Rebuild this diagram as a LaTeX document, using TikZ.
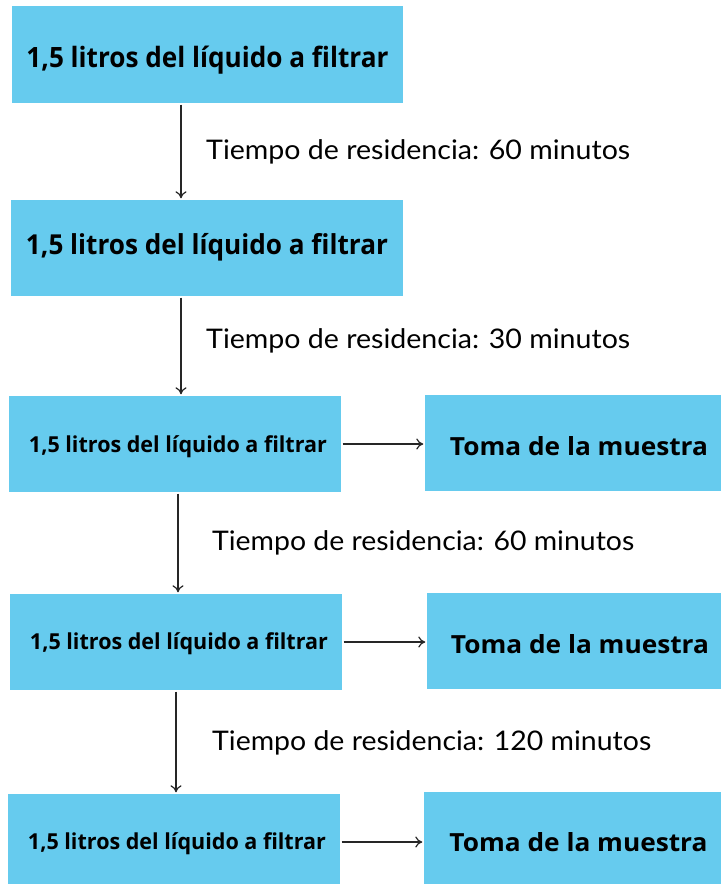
\documentclass[tikz,border=0pt]{standalone}
\usepackage{fontspec}
\setmainfont{Lato}
\newfontfamily\boxfont{Open Sans}
\usetikzlibrary{arrows.meta}
\definecolor{boxblue}{RGB}{102,203,238}
% #1 = lowering of baseline below box centre, #2 = width, #3 = text
\newcommand\boxtxt[3]{\raisebox{-#1}[0pt][0pt]{\resizebox{#2}{\height}{#3}}}
\newcommand\fitl[2]{\resizebox{#1}{\height}{#2}}
\tikzset{
  bluebox/.style={rectangle, fill=boxblue, inner sep=0pt, anchor=center, font=\boxfont\bfseries},
  arr/.style={draw=black!85, line width=1.2pt, -{To[length=7pt,width=11pt]}, shorten >=1.5pt, shorten <=1.5pt},
  lbl/.style={anchor=base west, inner sep=0pt, font=\fontsize{27}{30}\selectfont}
}
\begin{document}
\begin{tikzpicture}[x=1pt,y=-1pt]
\useasboundingbox (0,0) rectangle (721,884);
\node[bluebox, minimum width=391pt, minimum height=97pt] (b1) at (207.5,54.5) {\fontsize{28}{30}\selectfont\boxtxt{12.5pt}{362pt}{1,5 litros del líquido a filtrar}};
\node[bluebox, minimum width=392pt, minimum height=96pt] (b2) at (207,248) {\fontsize{27.5}{30}\selectfont\boxtxt{6pt}{362pt}{1,5 litros del líquido a filtrar}};
\node[bluebox, minimum width=332pt, minimum height=96pt] (b3) at (175,444) {\fontsize{22}{26}\selectfont\hspace*{6pt}\boxtxt{8.3pt}{298pt}{1,5 litros del líquido a filtrar}};
\node[bluebox, minimum width=296pt, minimum height=96pt] (t3) at (573,443) {\fontsize{25}{28}\selectfont\hspace*{12pt}\boxtxt{12pt}{258pt}{Toma de la muestra}};
\node[bluebox, minimum width=332pt, minimum height=96pt] (b4) at (176,642) {\fontsize{22}{26}\selectfont\hspace*{6pt}\boxtxt{7.3pt}{298pt}{1,5 litros del líquido a filtrar}};
\node[bluebox, minimum width=294pt, minimum height=96pt] (t4) at (574,641) {\fontsize{25}{28}\selectfont\hspace*{12pt}\boxtxt{12pt}{258pt}{Toma de la muestra}};
\node[bluebox, minimum width=332pt, minimum height=90pt] (b5) at (174,839) {\fontsize{22}{26}\selectfont\hspace*{6pt}\boxtxt{10.3pt}{298pt}{1,5 litros del líquido a filtrar}};
\node[bluebox, minimum width=297pt, minimum height=92pt] (t5) at (572.5,838) {\fontsize{25}{28}\selectfont\hspace*{12pt}\boxtxt{13.7pt}{258pt}{Toma de la muestra}};
% vertical arrows
\coordinate (x1) at (181,0);
\coordinate (x3) at (178,0);
\coordinate (x4) at (176,0);
\draw[arr] (b1.south -| x1) -- (b2.north -| x1);
\draw[arr] (b2.south -| x1) -- (b3.north -| x1);
\draw[arr] (b3.south -| x3) -- (b4.north -| x3);
\draw[arr] (b4.south -| x4) -- (b5.north -| x4);
% horizontal arrows
\draw[arr] (b3.east) -- (b3.east -| t3.west);
\draw[arr] (b4.east) -- (b4.east -| t4.west);
\draw[arr] (b5.east |- 0,842) -- (t5.west |- 0,842);
% labels
\node[lbl] (l1) at (206,159.3) {\fitl{424pt}{Tiempo de residencia: 60 minutos}};
\node[lbl] (l2) at (206,348.5) {\fitl{424pt}{Tiempo de residencia: 30 minutos}};
\node[lbl] (l3) at (212,550.5) {\fitl{422pt}{Tiempo de residencia: 60 minutos}};
\node[lbl] (l4) at (212,750.5) {\fitl{439pt}{Tiempo de residencia: 120 minutos}};
\end{tikzpicture}
\end{document}
